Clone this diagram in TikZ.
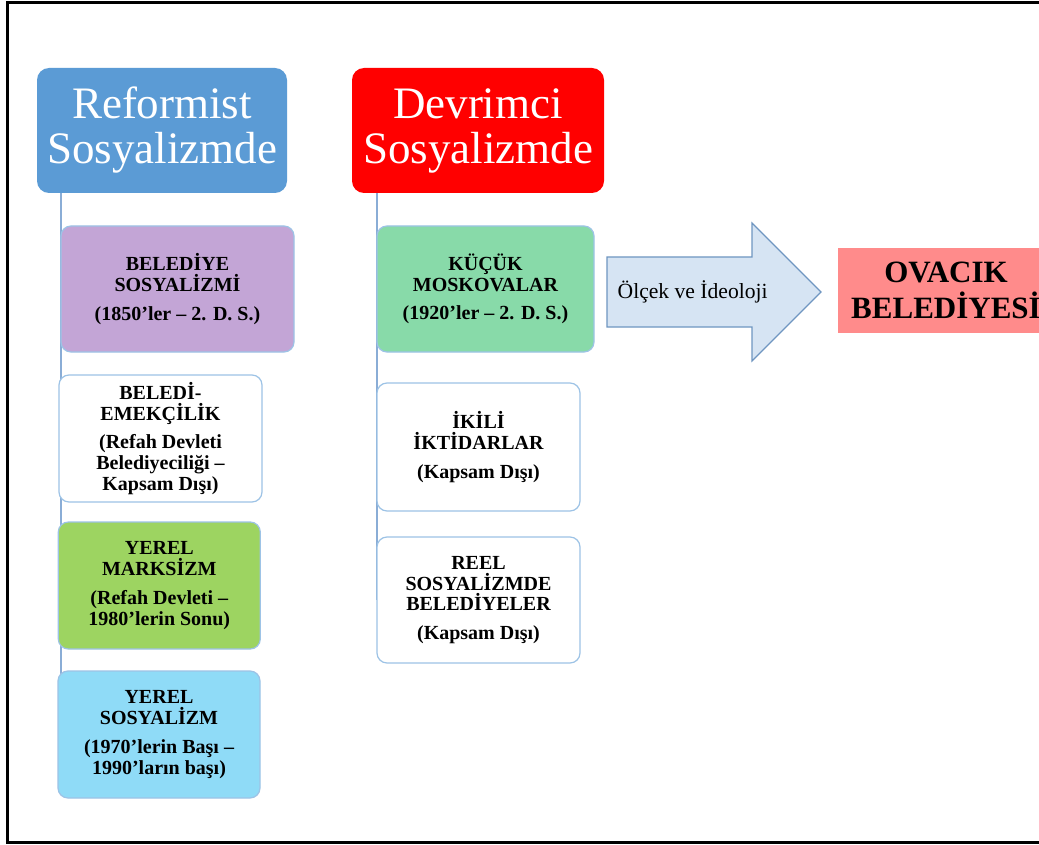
\documentclass[tikz,border=0pt]{standalone}
\usepackage{fontspec}
\setmainfont{Liberation Serif}
\usetikzlibrary{backgrounds}
\definecolor{hdrblue}{HTML}{5B9BD5}
\definecolor{hdrred}{HTML}{FF0000}
\definecolor{cpurple}{HTML}{C3A5D6}
\definecolor{cgreen}{HTML}{9DD461}
\definecolor{ccyan}{HTML}{8FDBF7}
\definecolor{cmint}{HTML}{88DAA9}
\definecolor{cborder}{HTML}{9DC3E6}
\definecolor{vline}{HTML}{8AADD6}
\definecolor{arrfill}{HTML}{D6E4F3}
\definecolor{arrdraw}{HTML}{6F96C1}
\definecolor{ovacik}{HTML}{FF8B8B}
\tikzset{
  x=1pt, y=-1pt,
  header/.style={rectangle, rounded corners=12pt, draw=none, text=white,
    align=center, font=\fontsize{45}{45}\selectfont, inner sep=0pt},
  child/.style={rectangle, rounded corners=10pt, draw=cborder, line width=1.2pt,
    align=center, font=\fontsize{20}{20.8}\selectfont\bfseries, inner sep=0pt},
  stem/.style={draw=vline, line width=1.6pt},
}
\begin{document}
\begin{tikzpicture}
\useasboundingbox (0,0) rectangle (1039,845);
\clip (0,0) rectangle (1039,845);

% headers
\node[header, fill=hdrblue, minimum width=250pt, minimum height=125pt] (ref) at (162,130.5) {Reformist\\Sosyalizmde};
\node[header, fill=hdrred, minimum width=252pt, minimum height=125pt] (dev) at (478,130.5) {Devrimci\\Sosyalizmde};

% left column
\node[child, fill=cpurple, minimum width=233pt, minimum height=126pt] (bs) at (177.5,289)
  {BELEDİYE\\SOSYALİZMİ\\[8pt](1850’ler – 2. D. S.)};
\node[child, fill=white, minimum width=203pt, minimum height=127pt] (be) at (160.5,438.5)
  {BELEDİ-\\EMEKÇİLİK\\[8pt](Refah Devleti\\Belediyeciliği –\\Kapsam Dışı)};
\node[child, fill=cgreen, minimum width=202pt, minimum height=127pt] (ym) at (159.3,585.5)
  {YEREL\\MARKSİZM\\[8pt](Refah Devleti –\\1980’lerin Sonu)};
\node[child, fill=ccyan, minimum width=202pt, minimum height=127pt] (ys) at (159,734.5)
  {YEREL\\SOSYALİZM\\[8pt](1970’lerin Başı –\\1990’ların başı)};

% right column
\node[child, fill=cmint, minimum width=217pt, minimum height=126pt] (km) at (485.5,289)
  {KÜÇÜK\\MOSKOVALAR\\[8pt](1920’ler – 2. D. S.)};
\node[child, fill=white, minimum width=203pt, minimum height=128pt] (ik) at (478.5,447)
  {İKİLİ\\İKTİDARLAR\\[8pt](Kapsam Dışı)};
\node[child, fill=white, minimum width=203pt, minimum height=126pt] (rs) at (478.5,600)
  {REEL\\SOSYALİZMDE\\BELEDİYELER\\[8pt](Kapsam Dışı)};

% background, frame and stems
\begin{scope}[on background layer]
\fill[white] (0,0) rectangle (1039,845);
\draw[line width=3pt, black] (7.5,2.8) rectangle (1100,842.3);
\draw[stem] ([xshift=24pt]ref.south west) -- ([xshift=24pt]ref.south west |- ys.center);
\draw[stem] ([xshift=25pt]dev.south west) -- ([xshift=25pt]dev.south west |- rs.center);
\end{scope}

% block arrow
\draw[fill=arrfill, draw=arrdraw, line width=1.2pt, line join=miter]
  (607,257) -- (752,257) -- (752,223) -- (821,292) -- (752,361) -- (752,327) -- (607,327) -- cycle;
\node[anchor=west, font=\fontsize{21.6}{24}\selectfont, inner sep=0pt] (lbl) at (617.5,292) {Ölçek ve İdeoloji};

% target
\node[rectangle, fill=ovacik, minimum width=216pt, minimum height=85pt, align=center,
  font=\fontsize{31}{36}\selectfont\bfseries, inner sep=0pt] (ov) at (946,290.5) {OVACIK\\BELEDİYESİ};
\end{tikzpicture}
\end{document}
